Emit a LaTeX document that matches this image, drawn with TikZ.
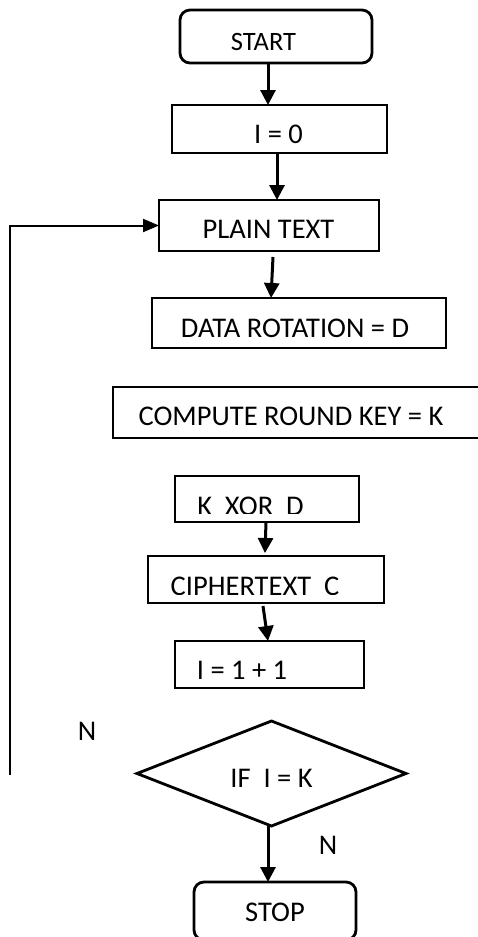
\documentclass[tikz,border=0pt]{standalone}
\usepackage{fontspec}
\setmainfont{Carlito}
\usetikzlibrary{arrows.meta,shapes.geometric}

\begin{document}
\begin{tikzpicture}[x=1pt,y=-1pt,
  thickbox/.style={draw, line width=2.8pt, inner sep=0pt, outer sep=0pt},
  thinbox/.style={draw, line width=1.3pt, inner sep=0pt, outer sep=0pt},
  termbox/.style={thickbox, rounded corners=10pt},
  lbl/.style={anchor=base, inner sep=0pt, font=\fontsize{28.5}{34}\selectfont},
  flow/.style={line width=3pt, -{Triangle[length=15pt,width=15pt]}},
  loopline/.style={line width=2pt, -{Triangle[length=16pt,width=13pt]}}]

\useasboundingbox (0,0) rectangle (478,937);
\clip (0,0) rectangle (478,937);

% boxes of the flow chart
\node[termbox, minimum width=192pt, minimum height=53pt] (start) at (276,36.5) {};
\node[thickbox, minimum width=215pt, minimum height=48pt] (init) at (279.5,129) {};
\node[thickbox, minimum width=220pt, minimum height=51pt] (plain) at (269,225.5) {};
\node[thinbox, minimum width=294pt, minimum height=50pt] (rot) at (299,323) {};
\node[thinbox, minimum width=387pt, minimum height=51pt] (key) at (306.5,412.5) {};
\node[thinbox, minimum width=184pt, minimum height=46pt] (xor) at (267,499) {};
\node[thinbox, minimum width=236pt, minimum height=47pt] (cipher) at (266,579.5) {};
\node[thinbox, minimum width=189pt, minimum height=47pt] (inc) at (269.5,664.5) {};
\node[thickbox, shape=diamond, minimum width=269pt, minimum height=105pt] (test) at (271.5,773.5) {};
\node[termbox, minimum width=162pt, minimum height=58pt] (stop) at (275,911) {};

% texts
\node[lbl, font=\fontsize{26.5}{32}\selectfont] (tstart) at (263.5,50) {START};
\node[lbl] (tinit) at (278.5,143) {I = 0};
\node[lbl] (tplain) at (268.5,238) {PLAIN TEXT};
\node[lbl] (trot) at (295,337) {DATA ROTATION = D};
\node[lbl] (tkey) at (291,425) {COMPUTE ROUND KEY = K};
\begin{scope}
  \clip (175,476) rectangle (359,513);
  \node[lbl] (txor) at (250.5,515) {K\ \ XOR\ \ D};
\end{scope}
\begin{scope}
  \clip (148,556) rectangle (384,594);
  \node[lbl] (tcipher) at (255,595) {CIPHERTEXT\ \ C};
\end{scope}
\node[lbl] (tinc) at (242,679) {I = 1 + 1};
\node[lbl] (ttest) at (271.5,787) {IF\ \ I = K};
\node[lbl] (tstop) at (275,921) {STOP};
\node[lbl] (nleft) at (87,740) {N};
\node[lbl] (nright) at (328,854) {N};

% connectors
\draw[flow] ([xshift=-8pt]start.south) -- ([xshift=-11.5pt]init.north);
\draw[flow] ([xshift=-2.5pt]init.south) -- ([xshift=8pt]plain.north);
\draw[flow] ([xshift=4pt,yshift=-6pt]plain.south) -- ([xshift=-28pt]rot.north);
\draw[flow] ([xshift=-1pt]xor.south) -- ([xshift=-1pt,yshift=3pt]cipher.north);
\draw[flow] ([xshift=-3pt,yshift=-3pt]cipher.south) -- ([xshift=-1.5pt]inc.north);
\draw[flow] ([xshift=-3.5pt]test.south) -- ([xshift=-7pt]stop.north);

% return line back to the plain text box
\coordinate (loopfoot) at (10,775);
\draw[loopline] (loopfoot) |- (plain.west);
\end{tikzpicture}
\end{document}
